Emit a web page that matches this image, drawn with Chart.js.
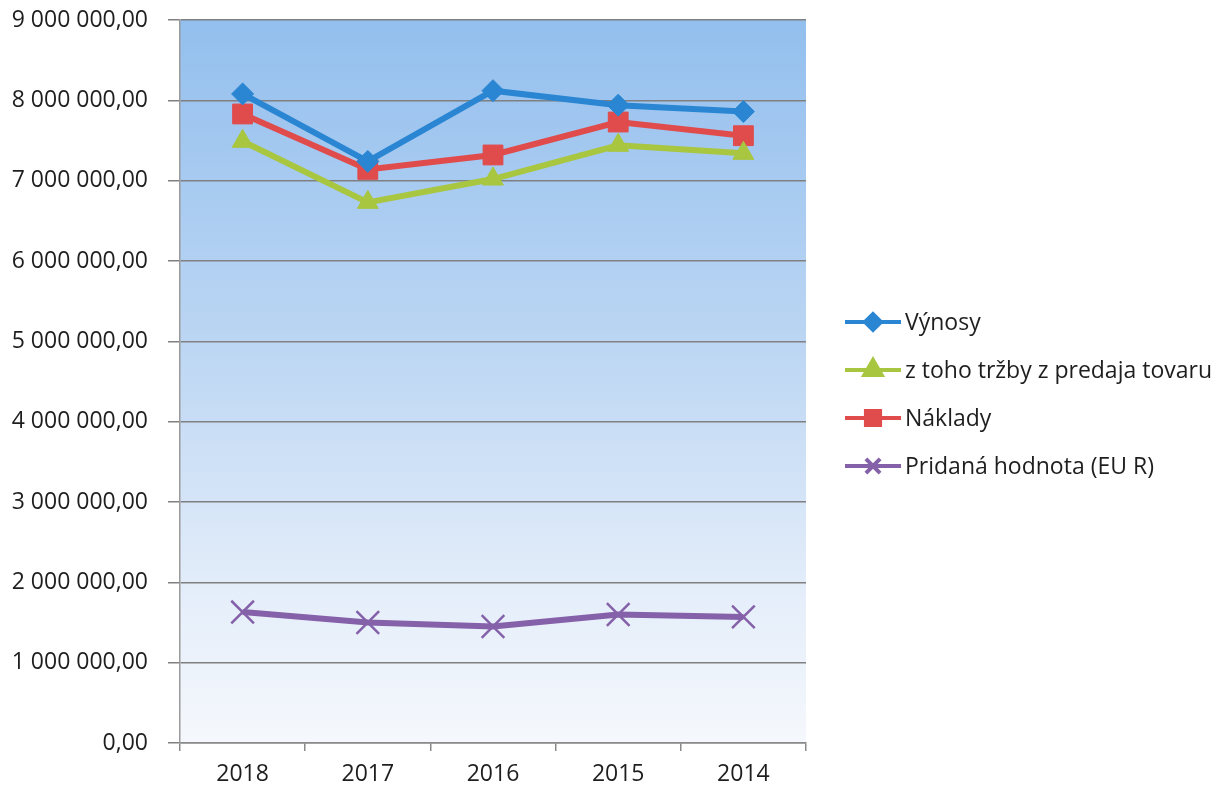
<!DOCTYPE html>
<html>
<head>
<meta charset="utf-8">
<script src="https://cdn.jsdelivr.net/npm/chart.js@4/dist/chart.umd.min.js"></script>
<style>
  html, body { margin: 0; padding: 0; background: #fff; }
  #wrap { width: 1227px; height: 791px; }
</style>
</head>
<body>
<div id="wrap"><canvas id="c"></canvas></div>
<script>
// údaje odčítané z grafu
const years = ['2018', '2017', '2016', '2015', '2014'];
const vynosy = [8080000, 7240000, 8120000, 7940000, 7860000];
const trzby = [7490000, 6730000, 7020000, 7440000, 7340000];
const naklady = [7830000, 7140000, 7320000, 7730000, 7560000];
const pridana = [1630000, 1500000, 1450000, 1600000, 1570000];

const FONT = '"Open Sans", Lato, sans-serif';

function fmt(v) {
    const s = Math.round(v).toString().replace(/\B(?=(\d{3})+(?!\d))/g, ' ');
    return s + ',00';
}

// pozadie plochy grafu s prechodom
const bgPlugin = {
    id: 'bg',
    beforeDraw(chart) {
        const a = chart.chartArea, ctx = chart.ctx;
        const g = ctx.createLinearGradient(0, a.top, 0, a.bottom);
        g.addColorStop(0, '#93bfee');
        g.addColorStop(0.45, '#bcd6f3');
        g.addColorStop(0.8, '#e5eefa');
        g.addColorStop(1, '#f5f8fc');
        ctx.save();
        ctx.fillStyle = g;
        ctx.fillRect(a.left, a.top, a.right - a.left, a.bottom - a.top);
        ctx.restore();
    }
};

// legenda vpravo: čiara so značkou
const legendPlugin = {
    id: 'sideLegend',
    afterDraw(chart) {
        const ctx = chart.ctx;
        const sizes = [8, 10, 10, 10];
        ctx.save();
        chart.data.datasets.forEach((ds, i) => {
            const y = 322 + i * 48;
            ctx.strokeStyle = ds.borderColor;
            ctx.lineWidth = 4;
            ctx.beginPath();
            ctx.moveTo(845, y);
            ctx.lineTo(901, y);
            ctx.stroke();
            ctx.fillStyle = ds.pointBackgroundColor;
            ctx.strokeStyle = ds.pointBorderColor;
            Chart.helpers.drawPoint(ctx, {
                pointStyle: ds.pointStyle,
                radius: sizes[i],
                rotation: 0,
                borderWidth: ds.pointBorderWidth
            }, 873, y);
            ctx.fillStyle = '#1e1e1e';
            ctx.font = '23px ' + FONT;
            ctx.textBaseline = 'middle';
            ctx.textAlign = 'left';
            ctx.fillText(ds.label, 905, y + 1);
        });
        ctx.restore();
    }
};

function series(label, data, color, style, radius, bw) {
    return {
        label: label,
        data: data,
        borderColor: color,
        backgroundColor: color,
        borderWidth: 6,
        pointStyle: style,
        pointRadius: radius,
        pointHoverRadius: radius,
        pointBackgroundColor: color,
        pointBorderColor: color,
        pointBorderWidth: bw,
        tension: 0
    };
}

new Chart(document.getElementById('c'), {
    type: 'line',
    data: {
        labels: years,
        datasets: [
            series('Výnosy', vynosy, '#2a86d2', 'rectRot', 11, 1),
            series('z toho tržby z predaja tovaru', trzby, '#a8c640', 'triangle', 12, 1),
            series('Náklady', naklady, '#e04b4b', 'rect', 14, 1),
            series('Pridaná hodnota (EU R)', pridana, '#8461a8', 'crossRot', 16, 2.5)
        ]
    },
    options: {
        responsive: true,
        maintainAspectRatio: false,
        animation: false,
        layout: { padding: { top: 20, right: 421, left: 0, bottom: 0 } },
        plugins: {
            legend: { display: false },
            tooltip: { enabled: false }
        },
        scales: {
            x: {
                offset: true,
                afterFit(s) { s.height = 48; s.paddingLeft = 0; s.paddingRight = 0; },
                grid: {
                    offset: true,
                    drawOnChartArea: false,
                    tickLength: 8,
                    color: '#8a8a8a',
                    lineWidth: 1.5
                },
                border: { color: '#8a8a8a', width: 1.5 },
                ticks: {
                    color: '#1e1e1e',
                    font: { size: 23, family: FONT },
                    padding: 10
                }
            },
            y: {
                min: 0,
                max: 9000000,
                afterFit(s) { s.width = 180; s.paddingTop = 0; s.paddingBottom = 0; },
                grid: {
                    color: '#808080',
                    lineWidth: 1.5,
                    tickLength: 12
                },
                border: { color: '#9a9a9a', width: 1.5 },
                ticks: {
                    stepSize: 1000000,
                    color: '#1e1e1e',
                    font: { size: 23, family: FONT },
                    padding: 20,
                    callback: v => fmt(v)
                }
            }
        }
    },
    plugins: [bgPlugin, legendPlugin]
});
</script>
</body>
</html>
